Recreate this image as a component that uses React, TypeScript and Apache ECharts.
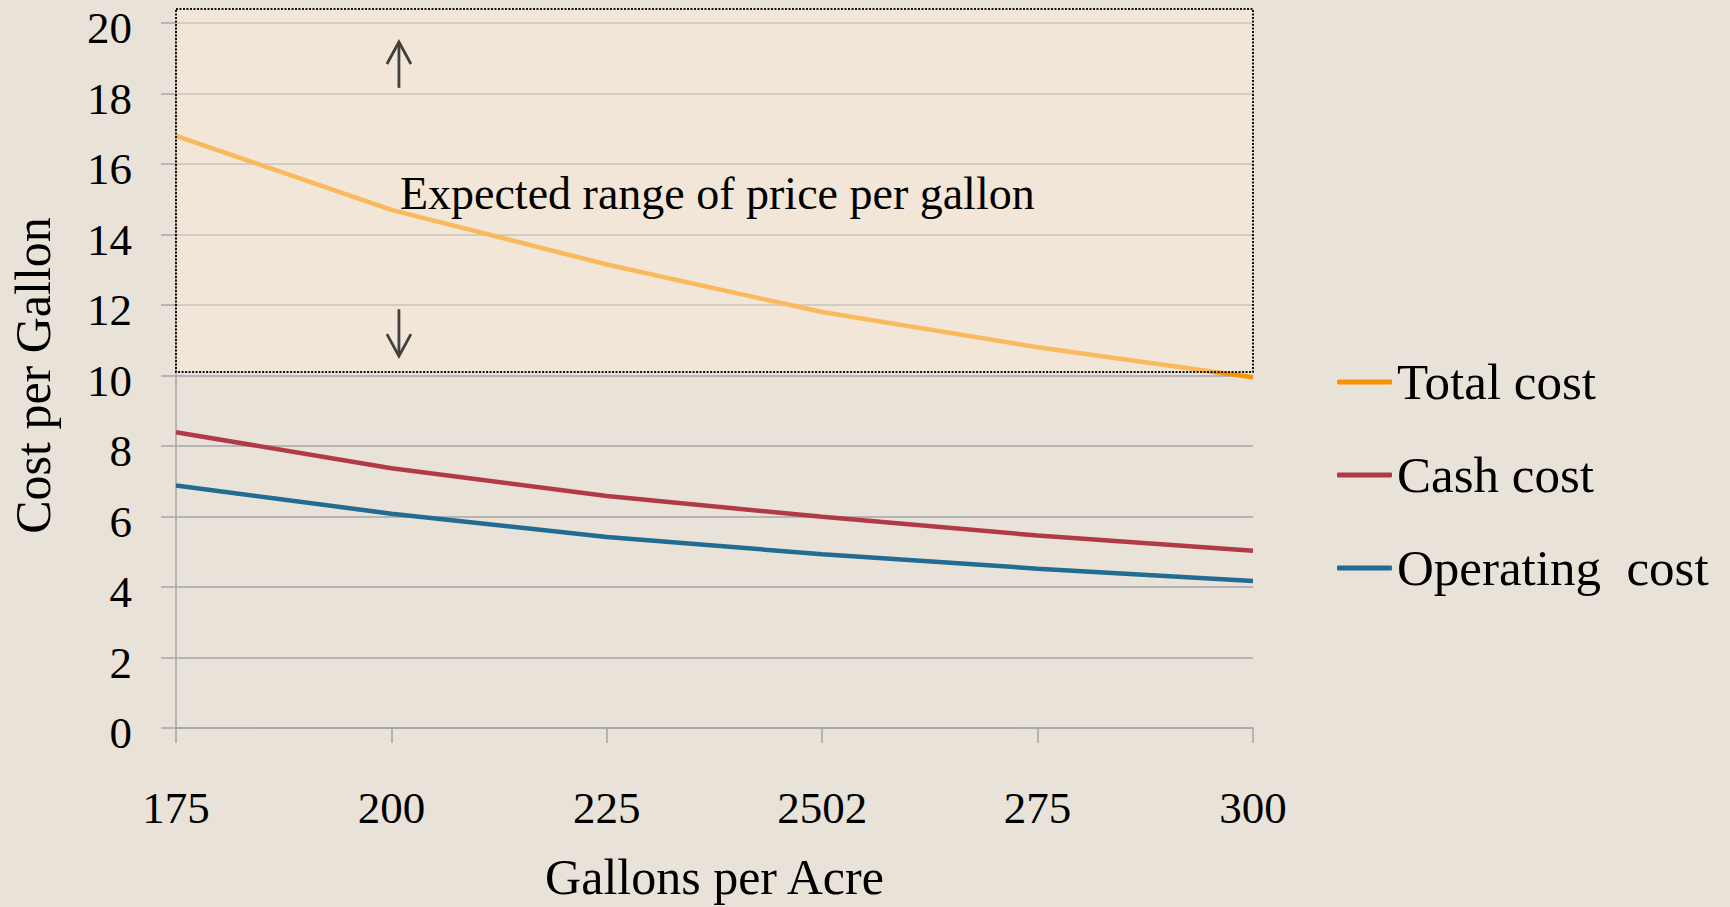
import React, { useEffect, useRef } from "react";
import * as echarts from "echarts";

const categories = ["175", "200", "225", "2502", "275", "300"];
const totalCost = [16.8, 14.7, 13.15, 11.8, 10.8, 9.95];
const cashCost = [8.39, 7.37, 6.58, 5.99, 5.46, 5.03];
const operatingCost = [6.88, 6.08, 5.42, 4.93, 4.52, 4.17];
const seriesNames = ["Total cost", "Cash cost", "Operating  cost"];
const priceRange = [10.1, 20.4];
const upArrow = [19.46, 18.16];
const downArrow = [11.88, 10.55];
const annotationText = "Expected range of price per gallon";
const annotationValue = 15.16;

const FONT = "'Liberation Serif', 'Times New Roman', serif";

export default function App() {
  const ref = useRef<HTMLDivElement>(null);
  useEffect(() => {
    if (!ref.current) return;
    const chart = echarts.init(ref.current, undefined, { renderer: "svg" });
    chart.setOption({
      animation: false,
      backgroundColor: "#E8E2D9",
      textStyle: { fontFamily: FONT, color: "#000" },
      grid: { left: 176, right: 477, top: 23, bottom: 177, containLabel: false },
      legend: {
        orient: "vertical",
        left: 1337,
        top: 354,
        padding: 0,
        itemWidth: 55,
        itemHeight: 5,
        itemGap: 37,
        icon: "roundRect",
        textStyle: { fontSize: 51, fontFamily: FONT, color: "#000", lineHeight: 50, padding: [6, 0, 0, 0] },
        data: seriesNames,
      },
      xAxis: {
        type: "category",
        data: categories,
        boundaryGap: false,
        name: "Gallons per Acre",
        nameLocation: "middle",
        nameGap: 124,
        nameTextStyle: { fontSize: 50, fontFamily: FONT, color: "#000" },
        axisLine: { show: true, lineStyle: { color: "#A6A6A6", width: 1.5 } },
        axisTick: { show: true, length: 15, alignWithLabel: true, lineStyle: { color: "#A6A6A6", width: 1.5 } },
        axisLabel: { fontSize: 45, margin: 57, color: "#000", fontFamily: FONT },
        splitLine: { show: false },
      },
      yAxis: {
        type: "value",
        min: 0,
        max: 20,
        interval: 2,
        name: "Cost per Gallon",
        nameLocation: "middle",
        nameGap: 118,
        nameTextStyle: { fontSize: 50, fontFamily: FONT, color: "#000" },
        axisLine: { show: true, lineStyle: { color: "#A6A6A6", width: 1.5 } },
        axisTick: { show: true, length: 15, lineStyle: { color: "#A6A6A6", width: 1.5 } },
        axisLabel: {
          fontSize: 45,
          lineHeight: 10,
          verticalAlign: "top",
          margin: 44,
          color: "#000",
          fontFamily: FONT,
        },
        splitLine: { show: true, lineStyle: { color: "#A6A6A6", width: 1.5 } },
      },
      series: [
        { name: seriesNames[0], type: "line", data: totalCost, color: "#F79400" },
        { name: seriesNames[1], type: "line", data: cashCost, color: "#B23A47" },
        { name: seriesNames[2], type: "line", data: operatingCost, color: "#226B91" },
      ].map((s) => ({
        ...s,
        symbol: "none",
        smooth: false,
        lineStyle: { width: 4.5, color: s.color },
        itemStyle: { color: s.color },
      })),
    });

    const px = (i: number, v: number) => chart.convertToPixel({ gridIndex: 0 }, [i, v]) as number[];
    const tl = px(0, priceRange[1]);
    const br = px(categories.length - 1, priceRange[0]);
    const x1 = px(1, 0)[0];
    const x2 = px(2, 0)[0];
    const arrowX = x1 + (x2 - x1) * 0.035;
    const upTop = px(1, upArrow[0])[1];
    const upBot = px(1, upArrow[1])[1];
    const dnTop = px(1, downArrow[0])[1];
    const dnBot = px(1, downArrow[1])[1];
    const textY = px(1, annotationValue)[1];
    const arrowStyle = { stroke: "#404040", lineWidth: 2.8, fill: "none" };

    chart.setOption({
      graphic: [
        {
          type: "rect",
          z: 50,
          shape: { x: tl[0], y: tl[1], width: br[0] - tl[0], height: br[1] - tl[1] },
          style: {
            fill: "rgba(254,236,217,0.42)",
            stroke: "#111",
            lineWidth: 2,
            lineDash: [2, 1.5],
          },
        },
        {
          type: "line",
          z: 51,
          shape: { x1: arrowX, y1: upTop, x2: arrowX, y2: upBot },
          style: arrowStyle,
        },
        {
          type: "polyline",
          z: 51,
          shape: { points: [[arrowX - 12, upTop + 22], [arrowX, upTop], [arrowX + 12, upTop + 22]] },
          style: arrowStyle,
        },
        {
          type: "line",
          z: 51,
          shape: { x1: arrowX, y1: dnTop, x2: arrowX, y2: dnBot },
          style: arrowStyle,
        },
        {
          type: "polyline",
          z: 51,
          shape: { points: [[arrowX - 12, dnBot - 22], [arrowX, dnBot], [arrowX + 12, dnBot - 22]] },
          style: arrowStyle,
        },
        {
          type: "text",
          z: 52,
          x: arrowX + 1,
          y: textY,
          style: {
            text: annotationText,
            fontSize: 46,
            fontFamily: FONT,
            fill: "#000",
            verticalAlign: "middle",
            align: "left",
          },
        },
      ],
    });

    return () => chart.dispose();
  }, []);
  return (
    <div
      ref={ref}
      style={{ position: "fixed", left: 0, top: 0, width: 1730, height: 907 }}
    />
  );
}
